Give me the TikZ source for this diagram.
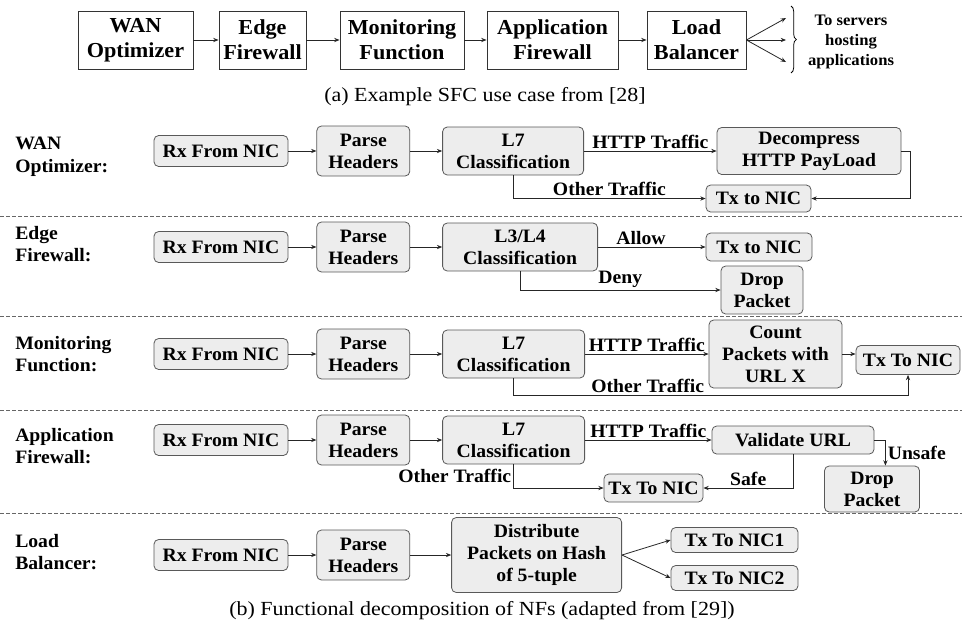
\documentclass[tikz,border=0pt]{standalone}
\usepackage{fontspec}
\setmainfont[FakeStretch=1.04]{Liberation Serif}
\newfontfamily\capfont[FakeStretch=1.1]{Liberation Serif}
\usepackage{tikz}
\usetikzlibrary{arrows.meta, positioning, calc, decorations.pathreplacing}

\begin{document}
\begin{tikzpicture}[
    x=0.75pt, y=-0.75pt,
    >={Stealth[length=4pt,width=3.2pt]},
    nfbox/.style={rectangle, draw=black!80, line width=0.7pt, fill=white, align=center, inner sep=1pt, minimum height=43.5pt, font=\bfseries\fontsize{16}{18.5}\selectfont},
    fnblock/.style={rectangle, rounded corners=3.5pt, draw=black!65, line width=0.6pt, fill=black!7, align=center, inner sep=1pt, font=\bfseries\fontsize{14.2}{16.5}\selectfont},
    rxbox/.style={fnblock, minimum width=100.5pt, minimum height=23.25pt},
    parsebox/.style={fnblock, minimum width=69.75pt, minimum height=37.5pt},
    rowlabel/.style={anchor=west, align=left, inner sep=0pt, font=\bfseries\fontsize{14.2}{17}\selectfont},
    edgelabel/.style={font=\bfseries\fontsize{14.2}{16}\selectfont, inner sep=1.5pt},
    captext/.style={font=\capfont\fontsize{15}{18}\selectfont},
    arrow/.style={->, line width=0.6pt, draw=black!85},
    sep/.style={draw=black!60, line width=0.6pt, dash pattern=on 3pt off 1.5pt}
]
\useasboundingbox (0,0) rectangle (962,633);

% (a) SERVICE FUNCTION CHAIN
\node[nfbox, minimum width=86.25pt] (wan) at (135.5,40) {WAN\\Optimizer};
\node[nfbox, minimum width=65.25pt] (edge) at (262.5,40) {Edge\\Firewall};
\node[nfbox, minimum width=93pt] (mon) at (402,40) {Monitoring\\Function};
\node[nfbox, minimum width=98.25pt] (app) at (552.5,40) {Application\\Firewall};
\node[nfbox, minimum width=74.25pt] (lb) at (696.5,40) {Load\\Balancer};
\coordinate (srv1) at (786,18);
\coordinate (srv2) at (786,40);
\coordinate (srv3) at (786,62);
\node[align=center, font=\bfseries\fontsize{12}{15}\selectfont] (srvtxt) at (851,42) {To servers\\hosting\\applications};

\draw[arrow] (wan) -- (edge);
\draw[arrow] (edge) -- (mon);
\draw[arrow] (mon) -- (app);
\draw[arrow] (app) -- (lb);
\draw[arrow] (lb.east) -- (srv1);
\draw[arrow] (lb.east) -- (srv2);
\draw[arrow] (lb.east) -- (srv3);
\draw[decorate, decoration={brace, amplitude=4pt}, line width=0.6pt] (791,6) -- (791,73);

\node[captext] (capa) at (485,97) {(a)\ Example SFC use case from [28]};

% (b) WAN OPTIMIZER
\node[rowlabel] (lwan) at (15,157) {WAN\\Optimizer:};
\node[rxbox] (rx1) at (221,151) {Rx From NIC};
\node[parsebox, right=21pt of rx1] (ph1) {Parse\\Headers};
\node[fnblock, right=24pt of ph1, minimum width=105.75pt, minimum height=36pt] (cl1) {L7\\Classification};
\node[fnblock, minimum width=138pt, minimum height=35.25pt] (dec1) at (809,151) {Decompress\\HTTP PayLoad};
\node[fnblock, minimum width=78.75pt, minimum height=20.25pt] (tx1) at (758.5,198.5) {Tx to NIC};

\draw[arrow] (rx1) -- (ph1);
\draw[arrow] (ph1) -- (cl1);
\draw[arrow] (cl1) -- node[edgelabel, above]{HTTP Traffic} (dec1);
\draw[arrow] (cl1.south) |- node[edgelabel, pos=0.75, above]{Other Traffic} (tx1.west);
\draw[arrow] (dec1.east) -- ++(9,0) |- (tx1.east);

\draw[sep] (0,216) -- (962,216);

% EDGE FIREWALL
\node[rowlabel] (ledge) at (15,244) {Edge\\Firewall:};
\node[rxbox] (rx2) at (221,247) {Rx From NIC};
\node[parsebox, right=21pt of rx2] (ph2) {Parse\\Headers};
\node[fnblock, right=24pt of ph2, minimum width=116.25pt, minimum height=36pt] (cl2) {L3/L4\\Classification};
\node[fnblock, minimum width=79.5pt, minimum height=21pt] (tx2) at (759,247) {Tx to NIC};
\node[fnblock, minimum width=61.5pt, minimum height=36pt] (drop2) at (762,290) {Drop\\Packet};

\draw[arrow] (rx2) -- (ph2);
\draw[arrow] (ph2) -- (cl2);
\draw[arrow] (cl2) -- node[edgelabel, above, pos=0.4]{Allow} (tx2);
\draw[arrow] (cl2.south) |- node[edgelabel, pos=0.75, above]{Deny} (drop2.west);

\draw[sep] (0,316) -- (962,316);

% MONITORING FUNCTION
\node[rowlabel] (lmon) at (15,354) {Monitoring\\Function:};
\node[rxbox] (rx3) at (221,354) {Rx From NIC};
\node[parsebox, right=21pt of rx3] (ph3) {Parse\\Headers};
\node[fnblock, right=24pt of ph3, minimum width=106.5pt, minimum height=36pt] (cl3) {L7\\Classification};
\node[fnblock, minimum width=99.75pt, minimum height=51pt] (cnt3) at (775.5,354) {Count\\Packets with\\URL X};
\node[fnblock, minimum width=78pt, minimum height=21.75pt] (tx3) at (908,360) {Tx To NIC};

\draw[arrow] (rx3) -- (ph3);
\draw[arrow] (ph3) -- (cl3);
\draw[arrow] (cl3) -- node[edgelabel, above]{HTTP Traffic} (cnt3);
\draw[arrow] (cnt3.east) -- (cnt3.east -| tx3.west);
\draw[arrow] (cl3.south) -- ++(0,17) -| node[edgelabel, pos=0.17, above]{Other Traffic} (tx3.south);

\draw[sep] (0,410) -- (962,410);

% APPLICATION FIREWALL
\node[rowlabel] (lapp) at (15,446) {Application\\Firewall:};
\node[rxbox] (rx4) at (221,440) {Rx From NIC};
\node[parsebox, right=21pt of rx4] (ph4) {Parse\\Headers};
\node[fnblock, right=24pt of ph4, minimum width=106.5pt, minimum height=36pt] (cl4) {L7\\Classification};
\node[fnblock, minimum width=121.5pt, minimum height=21pt] (val4) at (793,440) {Validate URL};
\node[fnblock, minimum width=74.25pt, minimum height=21pt] (tx4) at (653.5,488) {Tx To NIC};
\node[fnblock, minimum width=71.25pt, minimum height=34.5pt] (drop4) at (872,489) {Drop\\Packet};

\draw[arrow] (rx4) -- (ph4);
\draw[arrow] (ph4) -- (cl4);
\draw[arrow] (cl4) -- node[edgelabel, above]{HTTP Traffic} (val4);
\draw[arrow] (val4.east) -- ++(11,0) coordinate (turn4) -- (turn4 |- drop4.north) node[edgelabel, midway, right]{Unsafe};
\draw[arrow] (val4.south) |- node[edgelabel, pos=0.75, above]{Safe} (tx4.east);
\draw[arrow] (cl4.south) |- node[edgelabel, pos=0.25, left]{Other Traffic} (tx4.west);

\draw[sep] (0,513) -- (962,513);

% LOAD BALANCER
\node[rowlabel] (llb) at (15,552) {Load\\Balancer:};
\node[rxbox] (rx5) at (221,555) {Rx From NIC};
\node[parsebox, right=21pt of rx5] (ph5) {Parse\\Headers};
\node[fnblock, right=30.75pt of ph5, minimum width=127.5pt, minimum height=56.25pt] (dist5) {Distribute\\Packets on Hash\\of 5-tuple};
\node[fnblock, minimum width=95.25pt, minimum height=18.75pt] (nic1) at (734.5,540) {Tx To NIC1};
\node[fnblock, minimum width=95.25pt, minimum height=18.75pt] (nic2) at (734.5,578) {Tx To NIC2};

\draw[arrow] (rx5) -- (ph5);
\draw[arrow] (ph5) -- (dist5);
\draw[arrow] (dist5.east) -- (nic1.west);
\draw[arrow] (dist5.east) -- (nic2.west);

\node[captext] (capb) at (482,611) {(b) Functional decomposition of NFs (adapted from [29])};

\end{tikzpicture}
\end{document}
